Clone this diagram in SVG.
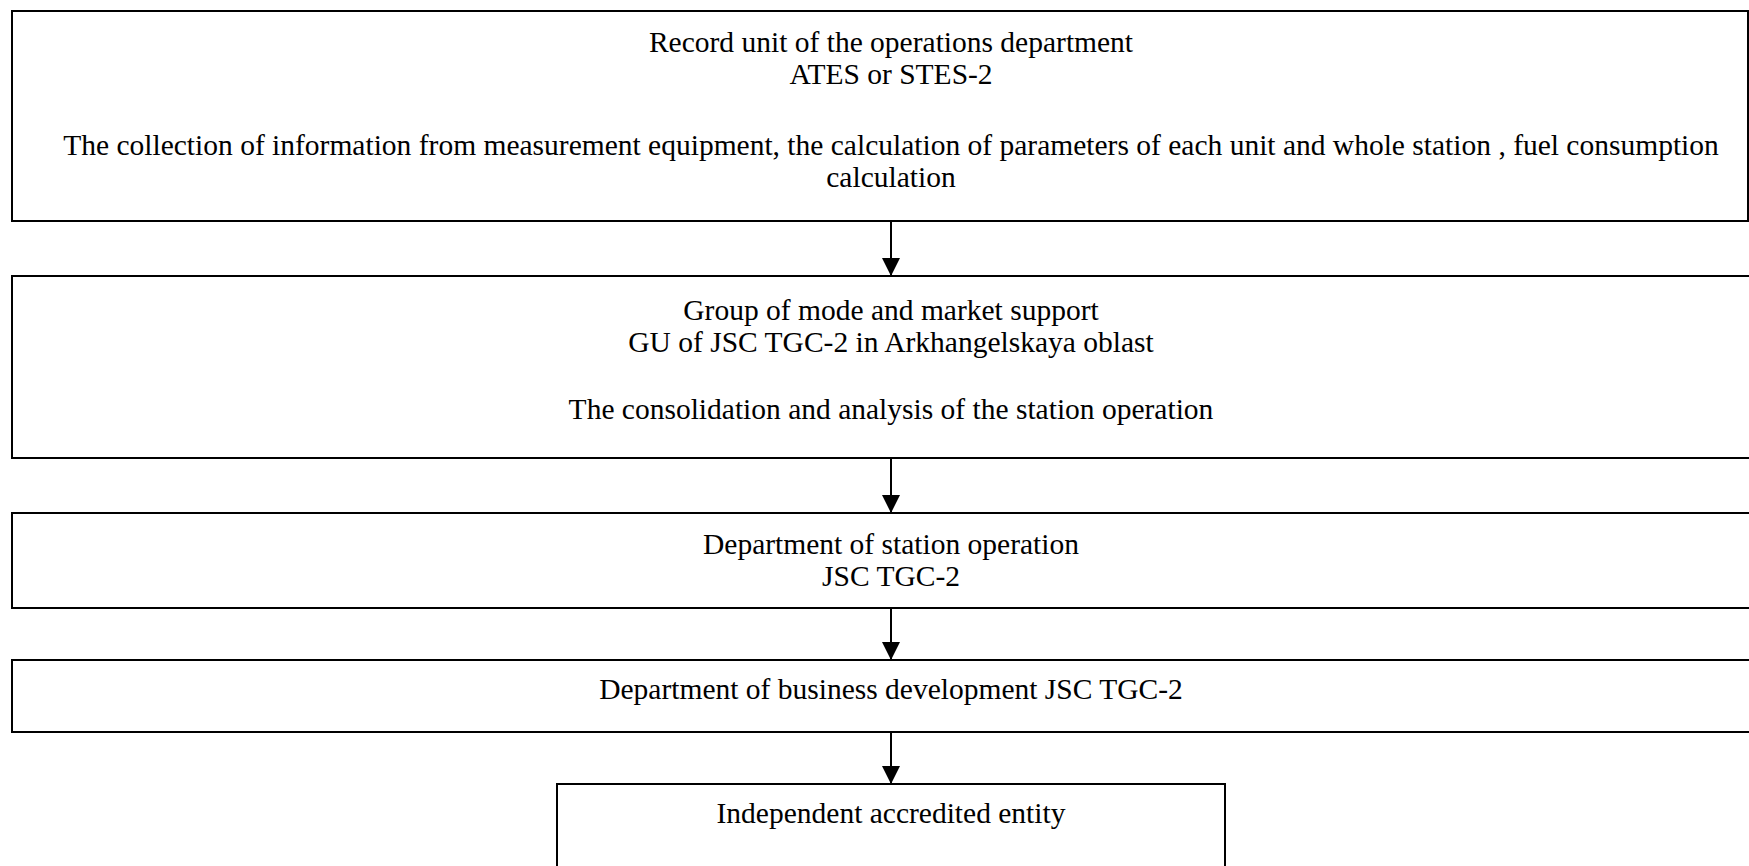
<svg xmlns="http://www.w3.org/2000/svg" width="1749" height="866" viewBox="0 0 1749 866">
<defs>
<style>
.box{fill:#fff;stroke:#000;stroke-width:2}
.t{font-family:"Liberation Serif","Times New Roman",serif;font-size:29.5px;fill:#000;text-anchor:middle}
.c{stroke:#000;stroke-width:2;fill:none}
</style>
<marker id="ah" markerUnits="userSpaceOnUse" markerWidth="18" markerHeight="18" viewBox="0 0 16 16" refX="16" refY="8" orient="auto">
<path d="M0,0 L16,8 L0,16 Z" fill="#000"/>
</marker>
</defs>
<rect width="1749" height="866" fill="#fff"/>
<g id="node1">
<rect class="box" x="12" y="11" width="1736" height="210"/>
<text class="t" x="891" y="52">Record unit of the operations department</text>
<text class="t" x="891" y="84">ATES or STES-2</text>
<text class="t" x="891" y="155">The collection of information from measurement equipment, the calculation of parameters of each unit and whole station , fuel consumption</text>
<text class="t" x="891" y="187">calculation</text>
</g>
<g id="node2">
<rect class="box" x="12" y="276" width="1760" height="182"/>
<text class="t" x="891" y="320">Group of mode and market support</text>
<text class="t" x="891" y="352">GU of JSC TGC-2 in Arkhangelskaya oblast</text>
<text class="t" x="891" y="419">The consolidation and analysis of the station operation</text>
</g>
<g id="node3">
<rect class="box" x="12" y="513" width="1760" height="95"/>
<text class="t" x="891" y="554">Department of station operation</text>
<text class="t" x="891" y="586">JSC TGC-2</text>
</g>
<g id="node4">
<rect class="box" x="12" y="660" width="1760" height="72"/>
<text class="t" x="891" y="699">Department of business development JSC TGC-2</text>
</g>
<g id="node5">
<rect class="box" x="557" y="784" width="668" height="100"/>
<text class="t" x="891" y="823">Independent accredited entity</text>
</g>
<g id="connectors">
<line class="c" x1="891" y1="221" x2="891" y2="276" marker-end="url(#ah)"/>
<line class="c" x1="891" y1="458" x2="891" y2="513" marker-end="url(#ah)"/>
<line class="c" x1="891" y1="608" x2="891" y2="660" marker-end="url(#ah)"/>
<line class="c" x1="891" y1="732" x2="891" y2="784" marker-end="url(#ah)"/>
</g>
</svg>
